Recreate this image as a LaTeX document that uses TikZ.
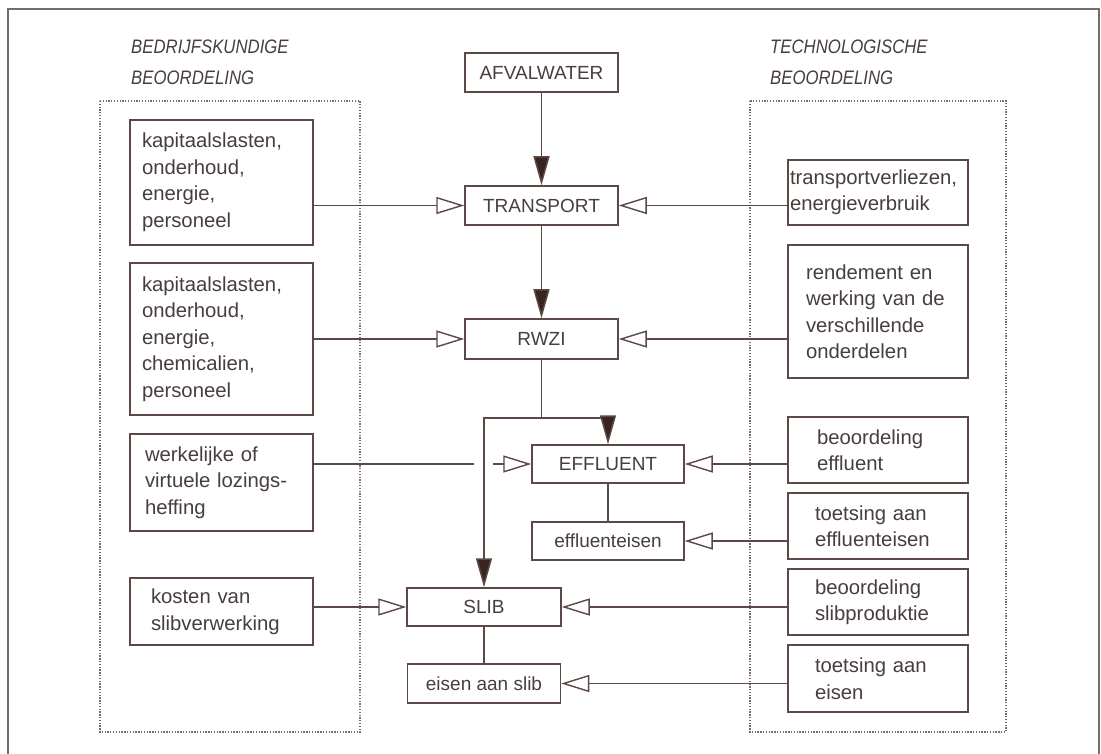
\documentclass[tikz,border=0pt]{standalone}
\usepackage{fontspec}
\setmainfont{Liberation Sans}
\usetikzlibrary{arrows.meta,calc}
\definecolor{ln}{RGB}{92,72,68}
\definecolor{ar}{RGB}{58,36,32}
\definecolor{tx}{RGB}{72,62,60}
\definecolor{fr}{RGB}{120,108,106}
\newcommand{\hd}[1]{\scalebox{0.86}[1]{#1}}
\tikzset{
  x=1pt, y=-1pt,
  every node/.style={text=tx},
  mainbox/.style={draw=ln, line width=1.5pt, minimum width=153pt, minimum height=39pt, inner sep=0pt,
    font=\fontsize{19}{24}\selectfont},
  sidebox/.style={draw=ln, line width=1.5pt, align=left, inner ysep=0pt,
    font=\fontsize{20.3}{26.5}\selectfont},
  head/.style={anchor=west, font=\fontsize{19.5}{22}\selectfont\itshape, inner sep=0pt},
  flow/.style={draw=ln, line width=1.5pt, -{Triangle[length=29pt, width=16pt, fill=ar]}},
  feed/.style={draw=ln, line width=1.3pt, -{Triangle[open, length=28pt, width=17pt, line width=1.4pt]}},
  plain/.style={draw=ln, line width=1.5pt},
  dotbox/.style={draw=fr, line width=1.3pt, dash pattern=on 1.3pt off 1.5pt},
}
\begin{document}
\begin{tikzpicture}
\useasboundingbox (0,0) rectangle (1101,754);
\fill[white] (0,0) rectangle (1101,754);
% outer frame
\draw[fr, line width=1.8pt] (8,754) -- (8,9) -- (1099,9) -- (1099,754);

% headings
\node[head] (h1) at (131,47) {\hd{BEDRIJFSKUNDIGE}};
\node[head] (h2) at (131,78) {\hd{BEOORDELING}};
\node[head] (h3) at (770,47) {\hd{TECHNOLOGISCHE}};
\node[head] (h4) at (770,78) {\hd{BEOORDELING}};

% dotted regions
\draw[dotbox] (100,101) rectangle (360,732);
\draw[dotbox] (750,101) rectangle (1006,732);

% main column
\node[mainbox] (afval) at (541.5,72.5) {AFVALWATER};
\node[mainbox] (transport) at (541.5,205.5) {TRANSPORT};
\node[mainbox, minimum height=40pt] (rwzi) at (541.5,339) {RWZI};
\node[mainbox, minimum width=152pt, minimum height=38pt] (effluent) at (608,464) {EFFLUENT};
\node[mainbox, minimum width=152pt, minimum height=38pt] (effeisen) at (608,541) {effluenteisen};
\node[mainbox, minimum width=154pt, minimum height=38pt] (slib) at (484,607) {SLIB};
\node[mainbox, minimum height=39pt] (eisenslib) at (484,683.5) {eisen aan slib};

% left boxes
\node[sidebox, text width=159pt, inner xsep=12pt, minimum height=125pt] (l1) at (221.5,182.5)
  {kapitaalslasten,\\onderhoud,\\energie,\\personeel};
\node[sidebox, text width=159pt, inner xsep=12pt, minimum height=152pt] (l2) at (221.5,339)
  {kapitaalslasten,\\onderhoud,\\energie,\\chemicalien,\\personeel};
\node[sidebox, text width=153pt, inner xsep=15pt, minimum height=97pt] (l3) at (221.5,482.5)
  {werkelijke of\\virtuele lozings-\\heffing};
\node[sidebox, text width=141pt, inner xsep=21pt, minimum height=67pt] (l4) at (221.5,611.5)
  {kosten van\\slibverwerking};

% right boxes
\node[sidebox, text width=176pt, inner xsep=2pt, minimum height=65pt] (r1) at (878,192.5)
  {transportverliezen,\\energieverbruik};
\node[sidebox, text width=144pt, inner xsep=18pt, minimum height=133pt] (r2) at (878,311.5)
  {rendement en\\werking van de\\verschillende\\onderdelen};
\node[sidebox, text width=122pt, inner xsep=29pt, minimum height=66pt] (r3) at (878,450)
  {beoordeling\\effluent};
\node[sidebox, text width=126pt, inner xsep=27pt, minimum height=66pt] (r4) at (878,526)
  {toetsing aan\\effluenteisen};
\node[sidebox, text width=126pt, inner xsep=27pt, minimum height=66pt] (r5) at (878,602)
  {beoordeling\\slibproduktie};
\node[sidebox, text width=126pt, inner xsep=27pt, minimum height=67pt] (r6) at (878,678.5)
  {toetsing aan\\eisen};

% main flow
\draw[flow] (afval.south) -- (transport.north);
\draw[flow] (transport.south) -- (rwzi.north);
\coordinate (split) at ($(rwzi.south)+(0,58)$);
\draw[plain] (rwzi.south) -- (split);
\draw[flow] (split) -| (slib.north);
\draw[flow] (split) -| (effluent.north);
\draw[plain] (effluent.south) -- (effeisen.north);
\draw[plain] (slib.south) -- (eisenslib.north);

% left feeds
\draw[feed] (l1.east |- transport.west) -- (transport.west);
\draw[feed] (l2.east |- rwzi.west) -- (rwzi.west);
\coordinate (gapl) at ([xshift=-10pt]slib.north |- effluent.west);
\coordinate (gapr) at ([xshift=9pt]slib.north |- effluent.west);
\draw[plain, line width=1.3pt] (l3.east |- effluent.west) -- (gapl);
\draw[feed] (gapr) -- (effluent.west);
\draw[feed] (l4.east |- slib.west) -- (slib.west);

% right feeds
\draw[feed] (r1.west |- transport.east) -- (transport.east);
\draw[feed] (r2.west |- rwzi.east) -- (rwzi.east);
\draw[feed] (r3.west |- effluent.east) -- (effluent.east);
\draw[feed] (r4.west |- effeisen.east) -- (effeisen.east);
\draw[feed] (r5.west |- slib.east) -- (slib.east);
\draw[feed] (r6.west |- eisenslib.east) -- (eisenslib.east);
\end{tikzpicture}
\end{document}
